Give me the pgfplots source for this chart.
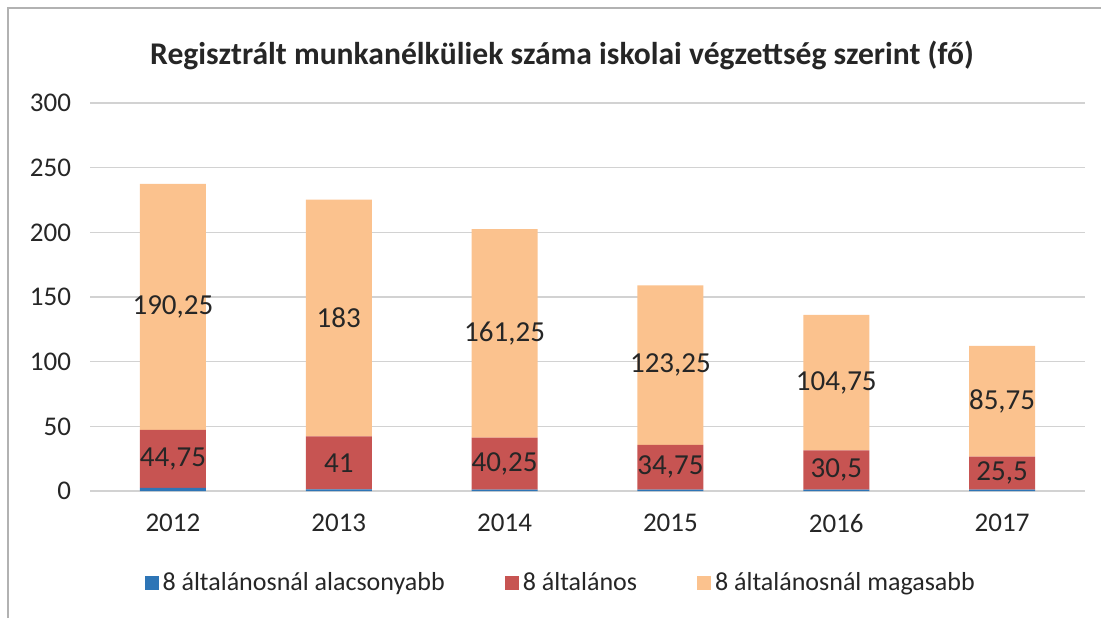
\documentclass[border=0pt]{standalone}
\usepackage{pgfplots}
\pgfplotsset{compat=1.18}
\usepackage{fontspec}
\setmainfont{Carlito}
\definecolor{cblue}{HTML}{2E75B6}
\definecolor{cred}{HTML}{C75452}
\definecolor{corange}{HTML}{FBC28E}
\definecolor{ctext}{HTML}{262626}

\begin{document}
\begin{tikzpicture}
\path[use as bounding box] (0,0) rectangle (550.5pt,309pt);
\draw[gray!60, line width=1pt] (4pt,0pt) -- (4pt,305pt) -- (550.5pt,305pt);
\node[font=\bfseries\fontsize{15.8}{18}\selectfont, text=ctext] at (281pt,281.5pt)
  {Regisztrált munkanélküliek száma iskolai végzettség szerint (fő)};
\begin{axis}[
  at={(45pt,63.5pt)}, anchor=south west,
  scale only axis, width=497.5pt, height=194pt,
  ybar stacked, bar width=33pt,
  xmin=-0.5, xmax=5.5, ymin=0, ymax=300,
  xtick=data, xticklabels={2012,2013,2014,2015,2016,2017},
  ytick={0,50,...,300},
  axis line style={draw=none},
  major tick length=0pt,
  ymajorgrids, grid style={gray!35, line width=0.7pt},
  tick label style={font=\fontsize{13.5}{16}\selectfont, text=ctext},
  xticklabel style={yshift=-8pt},
  yticklabel style={xshift=-6pt},
  /pgf/number format/assume math mode=true,
  /pgf/number format/use comma,
  legend image code/.code={\fill[#1] (0pt,-3.5pt) rectangle (7pt,3.5pt);},
  legend style={at={(0.474,-0.237)}, anchor=center, draw=none, fill=none,
    legend columns=3, font=\fontsize{13}{15}\selectfont, text=ctext,
    /tikz/every even column/.append style={column sep=28pt},
    nodes={inner sep=2pt}},
  every node near coord/.append style={anchor=center,
    font=\fontsize{14.5}{17}\selectfont, text=ctext},
]
\addplot[fill=cblue, draw=none] coordinates {(0,2.5) (1,1.25) (2,1) (3,1) (4,1) (5,1)};
\addplot[fill=cred, draw=none, nodes near coords] coordinates {(0,44.75) (1,41) (2,40.25) (3,34.75) (4,30.5) (5,25.5)};
\addplot[fill=corange, draw=none, nodes near coords] coordinates {(0,190.25) (1,183) (2,161.25) (3,123.25) (4,104.75) (5,85.75)};
\legend{8 általánosnál alacsonyabb, 8 általános, 8 általánosnál magasabb}
\end{axis}
\end{tikzpicture}
\end{document}
